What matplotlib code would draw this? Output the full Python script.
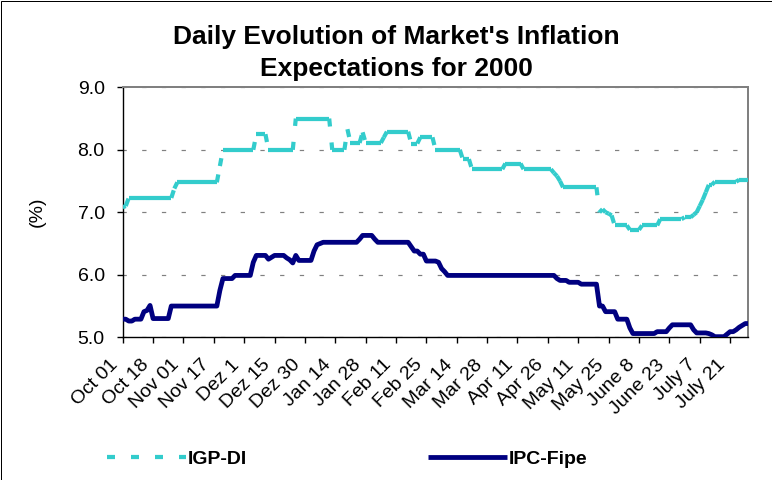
import matplotlib
matplotlib.use('Agg')
import matplotlib.pyplot as plt
from matplotlib.collections import LineCollection
from matplotlib.patches import Rectangle
from matplotlib.ticker import FormatStrFormatter
from matplotlib.transforms import ScaledTranslation
import numpy as np

plt.rcParams['font.family'] = ['Liberation Sans', 'DejaVu Sans']
plt.rcParams['lines.scale_dashes'] = False

# ---------------- data ----------------
title_lines = ["Daily Evolution of Market's Inflation", "Expectations for 2000"]
y_label = "(%)"
series_names = ["IGP-DI", "IPC-Fipe"]
tick_labels = ["Oct 01", "Oct 18", "Nov 01", "Nov 17", "Dez 1", "Dez 15", "Dez 30",
               "Jan 14", "Jan 28", "Feb 11", "Feb 25", "Mar 14", "Mar 28", "Apr 11",
               "Apr 26", "May 11", "May 25", "June 8", "June 23", "July 7", "July 21"]
tick_every = 10          # one labelled date every 10 business days
y_ticks = [5.0, 6.0, 7.0, 8.0, 9.0]

igp_di = [
    7.08, 7.10, 7.23, 7.23, 7.23, 7.23, 7.23, 7.23, 7.23, 7.23,
    7.23, 7.23, 7.23, 7.23, 7.23, 7.23, 7.23, 7.38, 7.48, 7.48,
    7.48, 7.48, 7.48, 7.48, 7.48, 7.48, 7.48, 7.48, 7.48, 7.48,
    7.48, 7.48, 7.74, 8.00, 8.00, 8.00, 8.00, 8.00, 8.00, 8.00,
    8.00, 8.00, 8.00, 8.00, 8.25, 8.25, 8.25, 8.25, 8.00, 8.00,
    8.00, 8.00, 8.00, 8.00, 8.00, 8.00, 8.00, 8.50, 8.50, 8.50,
    8.50, 8.50, 8.50, 8.50, 8.50, 8.50, 8.50, 8.50, 8.50, 8.00,
    8.00, 8.00, 8.00, 8.00, 8.33, 8.11, 8.11, 8.11, 8.11, 8.28,
    8.11, 8.11, 8.11, 8.11, 8.11, 8.11, 8.20, 8.29, 8.29, 8.29,
    8.29, 8.29, 8.29, 8.29, 8.29, 8.10, 8.10, 8.10, 8.20, 8.20,
    8.20, 8.20, 8.20, 8.00, 8.00, 8.00, 8.00, 8.00, 8.00, 8.00,
    8.00, 8.00, 7.85, 7.85, 7.85, 7.69, 7.69, 7.69, 7.69, 7.69,
    7.69, 7.69, 7.69, 7.69, 7.69, 7.69, 7.78, 7.78, 7.78, 7.78,
    7.78, 7.78, 7.69, 7.69, 7.69, 7.69, 7.69, 7.69, 7.69, 7.69,
    7.69, 7.69, 7.63, 7.58, 7.50, 7.40, 7.40, 7.40, 7.40, 7.40,
    7.40, 7.40, 7.40, 7.40, 7.40, 7.40, 7.40, 7.00, 7.05, 7.00,
    6.98, 6.95, 6.79, 6.79, 6.79, 6.79, 6.79, 6.72, 6.72, 6.72,
    6.72, 6.79, 6.79, 6.79, 6.79, 6.79, 6.79, 6.89, 6.89, 6.89,
    6.89, 6.89, 6.89, 6.89, 6.89, 6.92, 6.92, 6.92, 6.96, 7.00,
    7.10, 7.20, 7.32, 7.44, 7.44, 7.49, 7.49, 7.49, 7.49, 7.49,
    7.49, 7.49, 7.49, 7.52, 7.52, 7.52, 7.52,
]

ipc_fipe = [
    5.29, 5.29, 5.26, 5.26, 5.29, 5.29, 5.29, 5.41, 5.43, 5.51,
    5.30, 5.30, 5.30, 5.30, 5.30, 5.30, 5.50, 5.50, 5.50, 5.50,
    5.50, 5.50, 5.50, 5.50, 5.50, 5.50, 5.50, 5.50, 5.50, 5.50,
    5.50, 5.50, 5.75, 5.94, 5.94, 5.94, 5.94, 5.99, 5.99, 5.99,
    5.99, 5.99, 5.99, 6.20, 6.31, 6.31, 6.31, 6.31, 6.25, 6.28,
    6.31, 6.31, 6.31, 6.31, 6.27, 6.24, 6.19, 6.31, 6.23, 6.23,
    6.23, 6.23, 6.23, 6.38, 6.48, 6.50, 6.52, 6.52, 6.52, 6.52,
    6.52, 6.52, 6.52, 6.52, 6.52, 6.52, 6.52, 6.52, 6.57, 6.63,
    6.63, 6.63, 6.63, 6.57, 6.52, 6.52, 6.52, 6.52, 6.52, 6.52,
    6.52, 6.52, 6.52, 6.52, 6.52, 6.45, 6.38, 6.38, 6.33, 6.33,
    6.22, 6.22, 6.22, 6.22, 6.20, 6.10, 6.05, 5.99, 5.99, 5.99,
    5.99, 5.99, 5.99, 5.99, 5.99, 5.99, 5.99, 5.99, 5.99, 5.99,
    5.99, 5.99, 5.99, 5.99, 5.99, 5.99, 5.99, 5.99, 5.99, 5.99,
    5.99, 5.99, 5.99, 5.99, 5.99, 5.99, 5.99, 5.99, 5.99, 5.99,
    5.99, 5.99, 5.99, 5.94, 5.91, 5.91, 5.91, 5.88, 5.88, 5.88,
    5.88, 5.85, 5.85, 5.85, 5.85, 5.85, 5.85, 5.50, 5.50, 5.41,
    5.41, 5.41, 5.41, 5.29, 5.29, 5.29, 5.29, 5.15, 5.06, 5.06,
    5.06, 5.06, 5.06, 5.06, 5.06, 5.06, 5.09, 5.09, 5.09, 5.09,
    5.15, 5.20, 5.20, 5.20, 5.20, 5.20, 5.20, 5.20, 5.12, 5.07,
    5.07, 5.07, 5.07, 5.06, 5.04, 5.01, 5.01, 5.01, 5.01, 5.05,
    5.09, 5.09, 5.12, 5.16, 5.19, 5.22, 5.22,
]

# ---------------- styles ----------------
C_IGP = '#33CCCC'
C_IPC = '#000080'
W, H = 772, 480
PX = 0.72  # points per pixel at dpi 100

fig = plt.figure(figsize=(W / 100, H / 100), dpi=100)
left, right, top, bottom = 122.7, 748.3, 87.3, 337.3
ax = fig.add_axes([left / W, 1 - bottom / H, (right - left) / W, (bottom - top) / H])

x = np.arange(len(igp_di))

# IGP-DI: dashed, with the dash pattern restarting on every daily segment (as Excel draws it)
pts = np.column_stack([x, igp_di])
segs = np.stack([pts[:-1], pts[1:]], axis=1)
lc = LineCollection(segs, colors=C_IGP, linewidths=4.2 * PX,
                    linestyles=[(0, (8 * PX, 16 * PX))], capstyle='butt',
                    label=series_names[0], zorder=3)
ax.add_collection(lc)

ln, = ax.plot(np.arange(len(ipc_fipe)), ipc_fipe, color=C_IPC, lw=4.8 * PX,
              solid_joinstyle='round', solid_capstyle='butt',
              label=series_names[1], zorder=3)

ax.set_xlim(0, len(igp_di) - 1)
ax.set_ylim(y_ticks[0], y_ticks[-1])

ax.set_yticks(y_ticks)
ax.yaxis.set_major_formatter(FormatStrFormatter('%.1f'))
ax.set_xticks(np.arange(len(tick_labels)) * tick_every)
ax.set_xticklabels(tick_labels, rotation=45, ha='right', va='center',
                   rotation_mode='anchor')

ax.tick_params(axis='both', direction='out', length=6 * PX, width=1.0,
               color='black', labelsize=14, labelcolor='black')
ax.tick_params(axis='y', pad=12 * PX)
ax.tick_params(axis='x', pad=13 * PX)

# shift the rotated date labels to sit like Excel's (end slightly left of and below the tick)
shift = ScaledTranslation(-7 / 100, -6 / 100, fig.dpi_scale_trans)
for lab in ax.get_xticklabels():
    lab.set_transform(lab.get_transform() + shift)

ax.set_axisbelow(True)
ax.yaxis.grid(True, color='#808080', linewidth=1.2 * PX,
              linestyle=(1 * PX, (4.3 * PX, 15.4 * PX)))

for s in ('left', 'bottom'):
    ax.spines[s].set_color('black')
    ax.spines[s].set_linewidth(1.0)
for s in ('top', 'right'):
    ax.spines[s].set_color('#808080')
    ax.spines[s].set_linewidth(2.0 * PX)

# y label
fig.text(37 / W, 1 - 212 / H, y_label, rotation=90, ha='center', va='center',
         fontsize=14)

# title
fig.text(396 / W, 1 - 44 / H, title_lines[0], ha='center', va='baseline',
         fontsize=19, fontweight='bold')
fig.text(396 / W, 1 - 76 / H, title_lines[1], ha='center', va='baseline',
         fontsize=19, fontweight='bold')

# legend
fig.legend(handles=[lc, ln], loc='center left',
           bbox_to_anchor=(107 / W, 1 - 459 / H), ncol=2, frameon=False,
           prop=dict(weight='bold', size=14), handlelength=4.07,
           handletextpad=0.1, columnspacing=9.3, borderpad=0,
           borderaxespad=0)

# chart area border
fig.patches.append(Rectangle((0.5 / W, 0.5 / H), 1 - 1.0 / W, 1 - 1.0 / H,
                             transform=fig.transFigure, fill=False,
                             edgecolor='black', linewidth=1.0 * PX))

fig.savefig('out.png', dpi=100)
